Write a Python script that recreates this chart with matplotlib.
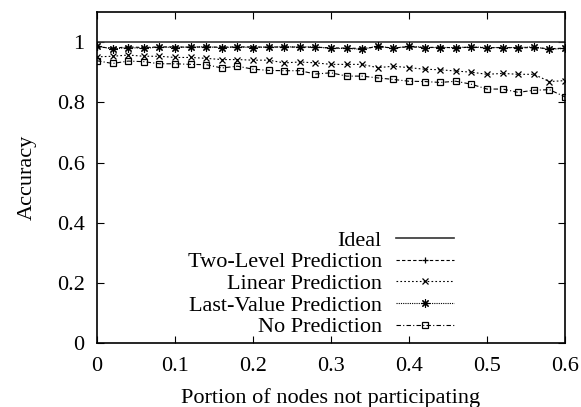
import numpy as np
import matplotlib
matplotlib.use("Agg")
import matplotlib.pyplot as plt

plt.rcParams["font.family"] = ["Liberation Serif", "DejaVu Serif"]
plt.rcParams["font.size"] = 16

# portion of nodes not participating (0 .. 0.6 step 0.02)
portion = np.linspace(0.0, 0.6, 31)

ideal = [1.0] * 31

last_value = [0.987, 0.977, 0.982, 0.979, 0.984, 0.982, 0.984, 0.984, 0.982, 0.984,
              0.982, 0.984, 0.984, 0.984, 0.984, 0.979, 0.979, 0.976, 0.987, 0.979,
              0.987, 0.982, 0.982, 0.982, 0.984, 0.982, 0.982, 0.982, 0.984, 0.976,
              0.979]

two_level = [0.984, 0.980, 0.984, 0.982, 0.984, 0.984, 0.983, 0.984, 0.983, 0.984,
             0.984, 0.983, 0.984, 0.983, 0.983, 0.981, 0.980, 0.979, 0.984, 0.981,
             0.984, 0.982, 0.983, 0.981, 0.983, 0.981, 0.982, 0.981, 0.982, 0.978,
             0.980]

linear = [0.951, 0.953, 0.957, 0.953, 0.953, 0.949, 0.949, 0.946, 0.942, 0.942,
          0.940, 0.940, 0.931, 0.934, 0.931, 0.926, 0.926, 0.926, 0.915, 0.920,
          0.915, 0.910, 0.908, 0.904, 0.900, 0.893, 0.896, 0.893, 0.893, 0.869,
          0.872]

no_pred = [0.938, 0.929, 0.937, 0.935, 0.928, 0.928, 0.926, 0.925, 0.914, 0.920,
           0.910, 0.906, 0.905, 0.905, 0.894, 0.898, 0.887, 0.887, 0.881, 0.876,
           0.870, 0.869, 0.866, 0.870, 0.860, 0.844, 0.844, 0.833, 0.840, 0.842,
           0.818]

fig = plt.figure(figsize=(5.81, 4.07), dpi=100)
ax = fig.add_axes([0.167, 0.157, 0.8055, 0.8135])

ax.plot(portion, ideal, color="#333333", lw=1.2, label="Ideal")
ax.plot(portion, two_level, color="black", lw=0.8, ls=(0, (3, 2)),
        marker="+", ms=5, mew=0.9, label="Two-Level Prediction")
ax.plot(portion, linear, color="black", lw=0.8, ls=(0, (1.5, 2)),
        marker="x", ms=4.5, mew=0.9, label="Linear Prediction")
ax.plot(portion, last_value, color="black", lw=0.8, ls=(0, (1, 1)),
        marker=(8, 2, 0), ms=6, mew=0.8, label="Last-Value Prediction")
ax.plot(portion, no_pred, color="black", lw=0.8, ls=(0, (4, 2, 1, 2)),
        marker="s", ms=4.5, mfc="none", mew=0.9, label="No Prediction")

ax.set_xlim(0, 0.6)
ax.set_ylim(0, 1.1)
ax.set_xticks(np.arange(0, 0.61, 0.1))
ax.set_xticklabels(["0", "0.1", "0.2", "0.3", "0.4", "0.5", "0.6"])
ax.set_yticks(np.arange(0, 1.01, 0.2))
ax.set_yticklabels(["0", "0.2", "0.4", "0.6", "0.8", "1"])
ax.tick_params(direction="in", top=True, right=True, length=5, width=0.8)
ax.tick_params(axis="x", pad=10)
ax.tick_params(axis="y", pad=9)
for s in ax.spines.values():
    s.set_linewidth(1.2)

ax.set_xlabel("Portion of nodes not participating", labelpad=9)
ax.set_ylabel("Accuracy", labelpad=14)

ax.legend(loc="lower right", bbox_to_anchor=(0.786, -0.016), markerfirst=False,
          numpoints=1, frameon=False, handlelength=2.6, handletextpad=0.63,
          labelspacing=0.05, borderpad=0.0, fontsize=16)

fig.savefig("out.png", dpi=100)
